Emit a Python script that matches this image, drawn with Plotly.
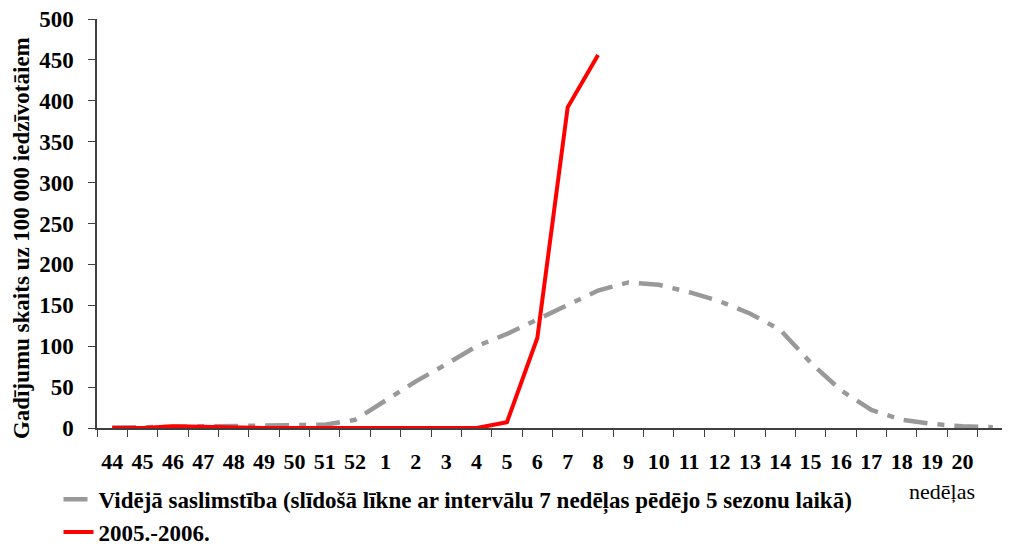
import plotly.graph_objects as go

weeks = ["44", "45", "46", "47", "48", "49", "50", "51", "52",
         "1", "2", "3", "4", "5", "6", "7", "8", "9", "10",
         "11", "12", "13", "14", "15", "16", "17", "18", "19", "20", "21"]
tick_labels = ["44", "45", "46", "47", "48", "49", "50", "51", "52",
               "1", "2", "3", "4", "5", "6", "7", "8", "9", "10",
               "11", "12", "13", "14", "15", "16", "17", "18", "19", "20", ""]

avg_values = [0.5, 1, 2, 2.5, 3, 3, 3, 4, 10,
              33, 57, 78, 100, 115, 133, 150, 168, 178, 175,
              166, 155, 140, 120, 80, 46, 22, 10, 5, 2, 1]

season_weeks = ["44", "45", "46", "47", "48", "49", "50", "51", "52",
                "1", "2", "3", "4", "5", "6", "7", "8"]
season_values = [0, 0, 2, 1, 1, 0, 0, 0, 0,
                 0, 0, 0, 0, 7, 110, 392, 456]

FONT = "Times New Roman, Liberation Serif, DejaVu Serif, serif"

fig = go.Figure()
fig.add_trace(go.Scatter(
    x=weeks, y=avg_values, mode="lines",
    name="<b>Vidējā saslimstība (slīdošā līkne ar intervālu 7 nedēļas pēdējo 5 sezonu laikā)</b>",
    line=dict(color="#999999", width=4.5, dash="24px,10px,7px,10px"),
    legend="legend",
))
fig.add_trace(go.Scatter(
    x=season_weeks, y=season_values, mode="lines",
    name="<b>2005.-2006.</b>",
    line=dict(color="#ff0000", width=4),
    legend="legend2",
))

fig.update_layout(
    width=1010, height=546,
    margin=dict(l=89, r=10, t=11, b=126, autoexpand=False),
    paper_bgcolor="white", plot_bgcolor="white",
    font=dict(family=FONT, size=22, color="black"),
    showlegend=True,
    legend=dict(xref="container", yref="container", x=0.05, y=0.1,
                xanchor="left", yanchor="middle",
                font=dict(family=FONT, size=23), bgcolor="rgba(0,0,0,0)",
                itemwidth=30),
    legend2=dict(xref="container", yref="container", x=0.05, y=0.04,
                 xanchor="left", yanchor="middle",
                 font=dict(family=FONT, size=23), bgcolor="rgba(0,0,0,0)",
                 itemwidth=30),
    xaxis=dict(
        type="category", categoryorder="array", categoryarray=weeks,
        tickmode="array", tickvals=weeks, ticktext=["<b>%s</b>" % t for t in tick_labels],
        tickson="boundaries", ticks="outside", ticklen=7, tickcolor="#404040",
        showline=True, linecolor="#404040", linewidth=1.5,
        showgrid=False, zeroline=False, range=[-0.5, 29.5],
        ticklabelstandoff=13, automargin=False, tickangle=0,
        ticklabeloverflow="allow",
        tickfont=dict(family=FONT, size=22),
    ),
    yaxis=dict(
        range=[0, 500], dtick=50, tick0=0,
        ticks="outside", ticklen=7, tickcolor="#404040",
        showline=True, linecolor="#404040", linewidth=1.5,
        showgrid=False, zeroline=False,
        tickprefix="<b>", ticksuffix="</b>",
        tickfont=dict(family=FONT, size=23),
        ticklabelstandoff=10, automargin=False,
        ticklabeloverflow="allow",
    ),
    annotations=[
        dict(text="<b>Gadījumu skaits uz 100 000 iedzīvotāiem</b>",
             xref="paper", yref="paper", x=-0.082, y=0.465,
             xanchor="center", yanchor="middle", textangle=-90,
             showarrow=False, font=dict(family=FONT, size=23)),
        dict(text="nedēļas", xref="paper", yref="paper",
             x=0.928, y=-0.155, xanchor="center", yanchor="middle",
             showarrow=False, font=dict(family=FONT, size=22)),
    ],
)

fig.write_html("out.html")
